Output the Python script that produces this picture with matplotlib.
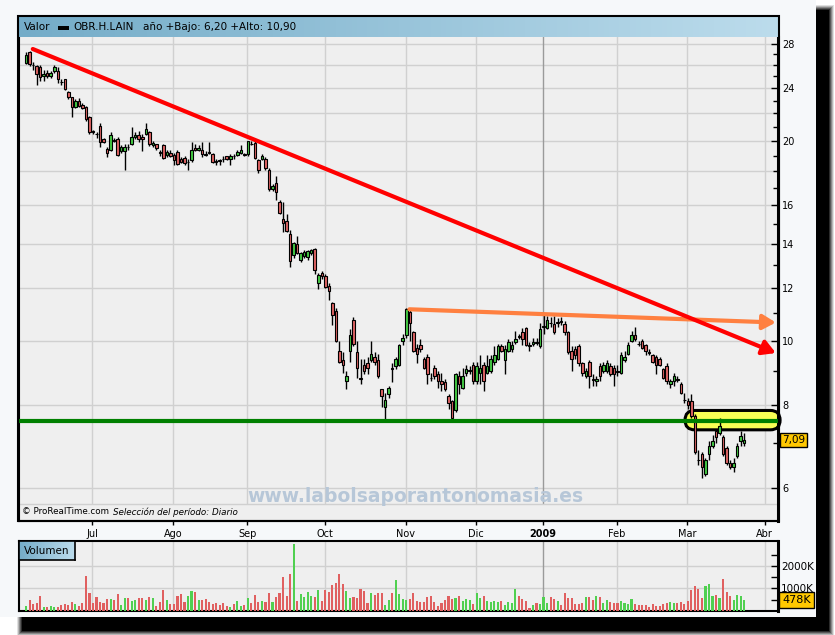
import numpy as np
import pandas as pd
import matplotlib
matplotlib.use("Agg")
import matplotlib.pyplot as plt
from matplotlib.patches import Rectangle, FancyBboxPatch
from matplotlib.ticker import FixedLocator, NullFormatter, FixedFormatter, FuncFormatter
from matplotlib.colors import LinearSegmentedColormap
import matplotlib.transforms as mtrans

W, H, DPI = 835, 635, 100

# ------------------------------------------------------------------ data
holidays = pd.to_datetime(["2008-12-24", "2008-12-25", "2008-12-26",
                           "2008-12-31", "2009-01-01"])
calendar = pd.bdate_range("2008-06-04", "2009-04-10")
calendar = calendar[~calendar.isin(holidays)]

opens = [26.2, 27.2, 26.05, 25.95, 25.8, 25.05, 25.3, 25.05, 25.45, 25.45,
         24.55, 24.75, 23.7, 23.25, 22.5, 22.95, 22.65, 22.5, 21.7, 20.7,
         20.5, 21.05, 20.1, 19.45, 19.4, 20.05, 20.1, 19.3, 19.3, 19.6,
         19.8, 20.25, 20.4, 20.3, 20.5, 20.6, 19.7, 19.75, 19.25, 19.7,
         19.05, 19.2, 19.05, 19.25, 18.8, 18.85, 18.6, 18.7, 19.5, 19.4,
         19.4, 19.1, 19.25, 19.1, 18.65, 18.7, 18.8, 18.95, 18.75, 19.0,
         19.05, 19.2, 19.1, 19.1, 19.8, 19.85, 18.7, 18.8, 18.8, 18.1,
         16.9, 17.3, 16.2, 15.25, 15.15, 14.5, 13.45, 14.0, 13.25, 13.4,
         13.35, 13.55, 13.75, 12.2, 12.65, 12.5, 12.1, 11.4, 11.1, 9.65,
         9.35, 8.7, 9.65, 10.75, 9.6, 8.8, 9.2, 9.25, 9.35, 9.45,
         9.35, 8.45, 7.95, 8.3, 9.1, 9.15, 9.2, 10.0, 10.2, 11.05,
         10.3, 9.75, 9.85, 9.4, 9.45, 8.8, 9.1, 8.9, 8.7, 8.65,
         8.25, 8.1, 7.85, 8.85, 8.5, 8.95, 9.0, 9.2, 8.7, 8.95,
         9.2, 8.95, 9.0, 9.3, 9.4, 9.8, 9.35, 9.65, 9.7, 9.95,
         10.15, 10.3, 10.45, 9.85, 9.9, 9.95, 9.8, 10.5, 10.45, 10.65,
         10.6, 10.65, 10.7, 10.6, 10.3, 9.65, 9.7, 9.8, 9.25, 8.85,
         9.3, 8.75, 8.7, 9.15, 9.0, 9.0, 9.15, 9.1, 9.0, 8.95,
         9.35, 9.55, 10.0, 10.2, 9.9, 10.0, 9.85, 9.6, 9.5, 9.45,
         9.4, 9.05, 9.15, 8.6, 8.7, 8.75, 8.6, 8.15, 8.1, 8.1,
         7.7, 6.62, 6.75, 6.3, 6.75, 6.95, 7.3, 7.25, 7.15, 6.9,
         6.55, 6.45, 6.7, 7.05, 7.02]
highs = [27.2, 27.3, 26.25, 26.0, 26.0, 25.6, 25.6, 25.5, 26.0, 25.8,
         24.8, 24.8, 23.8, 23.3, 23.1, 23.2, 22.8, 22.6, 21.8, 20.8,
         20.6, 21.3, 20.2, 19.6, 20.6, 20.2, 20.3, 19.7, 19.8, 19.8,
         21.0, 20.6, 20.7, 20.5, 21.3, 20.7, 20.0, 19.8, 19.4, 19.8,
         19.4, 19.4, 19.2, 19.4, 18.9, 19.0, 18.75, 19.9, 19.8, 19.7,
         19.9, 19.3, 19.9, 19.2, 18.8, 18.8, 19.0, 19.0, 19.1, 19.1,
         19.35, 19.7, 19.2, 20.0, 20.0, 20.1, 18.75, 19.1, 18.9, 18.2,
         17.2, 17.7, 16.3, 16.2, 15.5, 14.7, 14.1, 14.4, 13.6, 13.7,
         13.7, 13.75, 13.8, 12.65, 12.75, 12.6, 12.2, 11.45, 11.2, 10.0,
         9.6, 9.0, 10.4, 10.85, 10.0, 9.4, 9.4, 9.45, 10.0, 9.6,
         9.55, 8.45, 8.35, 8.55, 9.25, 9.45, 9.9, 10.25, 11.2, 11.15,
         10.35, 9.9, 10.05, 9.45, 9.55, 8.95, 9.2, 9.0, 8.95, 8.75,
         8.3, 8.15, 8.95, 9.0, 9.1, 9.2, 9.15, 9.3, 9.3, 9.5,
         9.3, 9.5, 9.5, 9.8, 9.9, 9.9, 9.85, 10.05, 10.0, 10.35,
         10.25, 10.45, 10.5, 9.95, 10.1, 10.1, 10.65, 10.95, 10.9, 10.85,
         10.9, 10.8, 10.85, 10.7, 10.35, 9.8, 9.8, 9.9, 9.3, 9.1,
         9.35, 8.9, 8.85, 9.25, 9.3, 9.35, 9.25, 9.2, 9.2, 9.6,
         9.65, 9.95, 10.35, 10.5, 10.0, 10.05, 9.9, 9.7, 9.55, 9.5,
         9.45, 9.1, 9.25, 8.75, 8.95, 8.85, 8.65, 8.35, 8.2, 8.3,
         7.75, 6.85, 6.8, 6.65, 7.05, 7.2, 7.35, 7.65, 7.2, 6.95,
         6.6, 6.65, 7.0, 7.3, 7.25]
lows = [26.1, 25.9, 25.6, 24.3, 24.6, 24.6, 24.9, 24.9, 25.3, 24.4,
        24.3, 23.85, 23.1, 21.7, 22.4, 22.5, 22.3, 21.4, 20.5, 20.5,
        20.2, 19.6, 19.85, 18.9, 19.3, 19.9, 19.0, 19.2, 18.1, 19.4,
        19.7, 20.1, 19.9, 19.3, 20.4, 19.65, 19.6, 19.4, 19.0, 18.8,
        18.9, 18.9, 18.4, 18.4, 18.5, 18.4, 18.1, 18.6, 19.3, 19.3,
        18.9, 19.0, 19.1, 18.5, 18.4, 18.4, 18.6, 18.7, 18.4, 18.8,
        19.0, 19.1, 19.0, 19.0, 19.7, 18.8, 17.9, 18.7, 18.1, 16.8,
        16.8, 16.3, 15.5, 14.6, 14.6, 12.9, 13.3, 13.5, 13.15, 13.3,
        13.25, 13.45, 12.6, 11.95, 12.4, 12.0, 11.5, 10.55, 9.95, 9.25,
        8.95, 8.45, 9.3, 9.8, 8.8, 8.6, 8.9, 8.9, 9.3, 9.2,
        8.8, 7.95, 7.6, 8.2, 8.65, 9.05, 9.15, 9.85, 10.1, 10.0,
        9.6, 9.25, 9.6, 9.05, 8.6, 8.7, 8.75, 8.5, 8.4, 8.4,
        7.9, 7.6, 7.8, 8.3, 8.45, 8.85, 8.9, 8.6, 8.6, 8.6,
        8.4, 8.9, 8.95, 9.2, 9.35, 9.6, 8.9, 9.6, 9.6, 9.9,
        10.05, 9.85, 9.8, 9.65, 9.8, 9.85, 9.75, 10.25, 10.4, 10.5,
        10.25, 10.5, 10.55, 10.2, 9.55, 9.0, 9.4, 9.15, 8.85, 8.8,
        8.5, 8.55, 8.55, 8.7, 8.95, 8.95, 8.85, 8.55, 8.85, 8.9,
        9.3, 9.5, 9.95, 10.0, 9.8, 9.7, 9.5, 9.5, 9.25, 8.9,
        9.15, 8.75, 8.6, 8.5, 8.55, 8.65, 8.3, 8.05, 7.9, 7.65,
        6.75, 6.5, 6.2, 6.25, 6.6, 6.9, 7.0, 7.2, 6.7, 6.5,
        6.4, 6.35, 6.65, 6.95, 6.95]
closes = [26.95, 26.1, 26.0, 25.2, 24.95, 25.25, 25.05, 25.3, 25.8, 24.75,
          24.5, 23.9, 23.25, 22.5, 22.95, 22.6, 22.45, 21.6, 20.6, 20.65,
          20.45, 19.95, 19.95, 19.2, 20.4, 20.0, 19.05, 19.55, 19.6, 19.55,
          20.3, 20.4, 20.1, 20.15, 20.85, 19.75, 19.85, 19.5, 19.2, 18.85,
          19.25, 19.0, 18.7, 18.45, 18.6, 18.55, 18.6, 19.4, 19.4, 19.5,
          19.1, 19.05, 19.2, 18.6, 18.6, 18.65, 18.75, 18.8, 18.95, 18.95,
          19.25, 19.4, 19.05, 20.0, 19.75, 18.85, 18.1, 18.95, 18.2, 16.9,
          17.1, 16.75, 15.55, 15.05, 14.65, 13.2, 14.05, 13.55, 13.55, 13.6,
          13.65, 13.7, 12.78, 12.55, 12.5, 12.05, 11.9, 10.95, 10.0, 9.3,
          9.2, 8.85, 10.2, 9.9, 9.1, 8.75, 9.0, 9.1, 9.55, 9.3,
          8.85, 8.25, 8.15, 8.5, 9.05, 9.4, 9.85, 10.1, 11.15, 10.65,
          9.65, 9.55, 9.7, 9.1, 8.9, 8.78, 8.85, 8.7, 8.6, 8.45,
          8.05, 7.65, 8.9, 8.6, 8.85, 9.05, 9.02, 8.7, 9.15, 9.1,
          8.7, 9.15, 9.4, 9.5, 9.8, 9.65, 9.7, 9.95, 9.85, 10.05,
          10.12, 10.05, 9.85, 9.83, 9.95, 9.93, 10.4, 10.52, 10.75, 10.63,
          10.3, 10.67, 10.68, 10.3, 9.6, 9.4, 9.5, 9.25, 8.95, 9.0,
          8.85, 8.73, 8.75, 8.85, 9.2, 9.25, 8.9, 8.9, 8.98, 9.5,
          9.45, 9.85, 10.2, 10.05, 9.88, 9.75, 9.65, 9.58, 9.3, 9.2,
          9.2, 8.8, 8.7, 8.7, 8.85, 8.73, 8.35, 8.13, 8.0, 7.7,
          6.8, 6.6, 6.45, 6.6, 6.95, 7.05, 7.15, 7.45, 6.75, 6.55,
          6.45, 6.55, 6.95, 7.18, 7.09]
volumes_k = [221, 487, 310, 354, 664, 177, 177, 221, 177, 192,
             265, 310, 280, 398, 310, 221, 354, 1549, 796, 354,
             619, 398, 354, 531, 531, 487, 737, 265, 575, 575,
             442, 487, 575, 575, 487, 619, 575, 221, 398, 929,
             487, 310, 310, 664, 752, 398, 664, 885, 841, 487,
             487, 531, 398, 310, 354, 265, 354, 221, 177, 310,
             442, 221, 265, 575, 354, 708, 398, 442, 398, 796,
             398, 619, 796, 1504, 664, 1637, 2965, 442, 752, 619,
             841, 664, 619, 929, 442, 929, 841, 1150, 1239, 1637,
             1195, 885, 575, 619, 575, 973, 885, 354, 796, 708,
             796, 796, 265, 487, 796, 1372, 752, 531, 487, 531,
             796, 442, 398, 413, 619, 664, 398, 236, 354, 487,
             664, 531, 575, 664, 457, 531, 487, 310, 796, 575,
             664, 442, 398, 442, 398, 442, 265, 398, 354, 973,
             664, 531, 442, 133, 280, 354, 310, 619, 354, 619,
             531, 442, 265, 796, 575, 575, 310, 310, 354, 619,
             619, 487, 664, 619, 354, 487, 398, 354, 354, 442,
             354, 310, 531, 310, 265, 265, 265, 177, 310, 221,
             221, 310, 354, 398, 354, 354, 398, 310, 442, 929,
             1106, 973, 575, 1106, 1195, 664, 708, 575, 1416, 841,
             664, 487, 708, 664, 478]

dates = calendar[:len(closes)]
month_names = {1: "2009", 2: "Feb", 3: "Mar", 4: "Abr", 7: "Jul", 8: "Ago",
               9: "Sep", 10: "Oct", 11: "Nov", 12: "Dic"}
price_major = [6, 8, 10, 12, 14, 16, 20, 24, 28]
price_minor = list(range(6, 29))
price_grid = list(range(6, 29, 2))
vol_major = [1000, 2000]
vol_minor = [500, 1500, 2500]

support_level = 7.57
red_trend = ((1.9, 27.5), (213.0, 9.58))        # (day index, price)
orange_trend = ((108.9, 11.15), (213.0, 10.65))
highlight = (187.2, 214.2, 7.34, 7.85)           # x0, x1, price lo, price hi

title_parts = ("Valor", "OBR.H.LAIN", "año +Bajo: 6,20 +Alto: 10,90")
watermark = "www.labolsaporantonomasia.es"

# ------------------------------------------------------------------ helpers
RED = "#e06464"
GREEN = "#44cc44"
GRID = "#d0d0d0"
PLOTBG = "#efefef"

plt.rcParams["font.family"] = ["DejaVu Sans"]

fig = plt.figure(figsize=(W / DPI, H / DPI), dpi=DPI, facecolor="white")


def box(l, t, r, b):
    return [l / W, 1 - b / H, (r - l) / W, (b - t) / H]


def frect(l, t, r, b, **kw):
    p = Rectangle((l / W, 1 - b / H), (r - l) / W, (b - t) / H,
                  transform=fig.transFigure, **kw)
    fig.patches.append(p)
    return p


# shadow + panel
for k, a in zip([5, 4, 3, 2, 1], [0.12, 0.18, 0.25, 0.35, 0.5]):
    frect(22 - k, 10 - k, 829 + k, 631 + k, fc="black", ec="none", alpha=a, zorder=-20)
frect(22, 10, 829, 631, fc="black", ec="none", zorder=-19)
frect(0, 0, 816, 617, fc="#f6f8fa", ec="none", zorder=-18)

# trading-day positions
n = len(closes)
x = np.arange(n)
o = np.array(opens); h = np.array(highs); lo = np.array(lows); c = np.array(closes)
up = c >= o

# month ticks (first trading day of each month, extended calendar)
cal_months = calendar.to_period("M")
tick_pos, tick_lab = [], []
for i in range(1, len(calendar)):
    if cal_months[i] != cal_months[i - 1] and calendar[i].month in month_names:
        tick_pos.append(i - 0.15)
        tick_lab.append(month_names[calendar[i].month])

xl = ((19 - 26.1) / 3.52, (778 - 26.1) / 3.52)

# ------------------------------------------------------------------ price axes
ax = fig.add_axes(box(19, 37, 778, 521))
ax.set_facecolor(PLOTBG)
ax.set_yscale("log")
ax.set_ylim(5.35, 28.67)
ax.set_xlim(*xl)

for v in price_grid:
    ax.axhline(v, color=GRID, lw=1, zorder=1)
for t, lab in zip(tick_pos, tick_lab):
    ax.axvline(t, color="#9a9a9a" if lab == "2009" else GRID, lw=1, zorder=1)

# bottom strip
ax.add_patch(Rectangle((0, 0), 1, (521 - 504) / 484, transform=ax.transAxes,
                       fc=PLOTBG, ec="none", zorder=1.5))
ax.plot([0, 1], [(521 - 504) / 484] * 2, transform=ax.transAxes,
        color=GRID, lw=1, zorder=1.6)

# highlight box (display coords so that the ends stay round)
X0, Y0 = ax.transData.transform((highlight[0], highlight[2]))
X1, Y1 = ax.transData.transform((highlight[1], highlight[3]))
hb = FancyBboxPatch((X0, Y0), X1 - X0, Y1 - Y0,
                    boxstyle=f"round,pad=0,rounding_size={(Y1 - Y0) / 2:.2f}",
                    transform=mtrans.IdentityTransform(), fc="#f8ff55",
                    ec="black", lw=2.2, zorder=2.5, clip_on=False)
ax.add_patch(hb)

# candles
ax.vlines(x, lo, h, color="black", lw=1, zorder=3)
blo = np.minimum(o, c)
bhi = np.maximum(o, c)
ax.bar(x, bhi - blo, bottom=blo, width=0.72,
       color=np.where(up, GREEN, RED), edgecolor="black", linewidth=0.8, zorder=4)

# support / trend lines
ax.axhline(support_level, color="#008000", lw=3, zorder=5)
for (p0, p1), col in ((orange_trend, "#ff8040"), (red_trend, "#ff0000")):
    ax.annotate("", xy=p1, xytext=p0,
                arrowprops=dict(arrowstyle="-|>,head_length=0.7,head_width=0.4",
                                color=col, lw=3, mutation_scale=11,
                                shrinkA=0, shrinkB=0),
                annotation_clip=False, zorder=6)

# axes styling
ax.yaxis.tick_right()
ax.yaxis.set_major_locator(FixedLocator(price_major))
ax.yaxis.set_major_formatter(FixedFormatter([str(v) for v in price_major]))
ax.yaxis.set_minor_locator(FixedLocator([v for v in price_minor if v not in price_major]))
ax.yaxis.set_minor_formatter(NullFormatter())
ax.tick_params(axis="y", which="major", direction="in", length=5, width=1,
               labelsize=7, pad=3, colors="black")
ax.tick_params(axis="y", which="minor", direction="in", length=3.5, width=1)
ax.set_xticks(tick_pos)
ax.set_xticklabels(tick_lab)
ax.tick_params(axis="x", direction="out", length=3, width=1, labelsize=7, pad=3)
for lab in ax.get_xticklabels():
    if lab.get_text() == "2009":
        lab.set_fontweight("bold")
for s in ("left", "bottom"):
    ax.spines[s].set_linewidth(1.5)
ax.spines["top"].set_visible(False)
ax.spines["right"].set_linewidth(2.2)

# last price label
ax.annotate(f"{closes[-1]:.2f}".replace(".", ","), xy=(1, closes[-1]),
            xycoords=("axes fraction", "data"), xytext=(3, 0),
            textcoords="offset points", ha="left", va="center", fontsize=7.5,
            bbox=dict(boxstyle="square,pad=0.2", fc="#ffc800", ec="black", lw=1),
            annotation_clip=False, zorder=10)

# strip texts
fig.text(22 / W, 1 - 512 / H, "© ProRealTime.com", fontsize=6.3, va="center", ha="left")
fig.text(113 / W, 1 - 512 / H, "Selección del período: Diario", fontsize=6.3,
         style="italic", va="center", ha="left")

# watermark
fig.text(415 / W, 1 - 496 / H, watermark, ha="center", va="center",
         fontsize=13.5, fontweight="bold", color="#b7c7d8", zorder=20)

# frame
frect(18, 16, 779, 521, fill=False, ec="black", lw=1.5, zorder=30)

# header
grad = np.linspace(0, 1, 256).reshape(1, -1)
hcmap = LinearSegmentedColormap.from_list("hdr", ["#74acc8", "#bcdcec"])
hax = fig.add_axes(box(19, 17, 778, 37))
hax.imshow(grad, aspect="auto", cmap=hcmap, extent=[0, 1, 0, 1])
hax.set_axis_off()
fig.text(24 / W, 1 - 27 / H, title_parts[0], fontsize=7.5, va="center", ha="left")
frect(58, 26, 69, 30, fc="black", ec="none", zorder=30)
fig.text(73 / W, 1 - 27 / H, title_parts[1], fontsize=7.5, va="center", ha="left")
fig.text(143 / W, 1 - 27 / H, title_parts[2], fontsize=7.5, va="center", ha="left")

# ------------------------------------------------------------------ volume axes
vax = fig.add_axes(box(19, 541, 778, 611))
vax.set_facecolor(PLOTBG)
vax.set_xlim(*xl)
vax.set_ylim(0, 3100)
for v in vol_major:
    vax.axhline(v, color=GRID, lw=1, zorder=1)
for t, lab in zip(tick_pos, tick_lab):
    vax.axvline(t, color="#9a9a9a" if lab == "2009" else GRID, lw=1, zorder=1)
vax.bar(x, volumes_k, width=0.6, color=np.where(up, "#50d050", "#e06060"),
        linewidth=0, zorder=3)
vax.set_xticks([])
vax.yaxis.tick_right()
vax.yaxis.set_major_locator(FixedLocator(vol_major))
vax.yaxis.set_major_formatter(FuncFormatter(lambda v, p: f"{int(v)}K"))
vax.yaxis.set_minor_locator(FixedLocator(vol_minor))
vax.tick_params(axis="y", which="major", direction="in", length=5, width=1,
                labelsize=7.5, pad=2)
vax.tick_params(axis="y", which="minor", direction="in", length=5, width=1)
for s in vax.spines.values():
    s.set_linewidth(1.5)
vax.spines["right"].set_linewidth(2.2)
vax.annotate(f"{volumes_k[-1]}K", xy=(1, volumes_k[-1]),
             xycoords=("axes fraction", "data"), xytext=(3, 0),
             textcoords="offset points", ha="left", va="center", fontsize=8,
             bbox=dict(boxstyle="square,pad=0.25", fc="#ffc800", ec="black", lw=1),
             annotation_clip=False, zorder=10)

vhax = fig.add_axes(box(19, 541, 75, 560))
vhax.imshow(grad, aspect="auto", cmap=hcmap, extent=[0, 1, 0, 1])
vhax.set_xticks([]); vhax.set_yticks([])
for s in vhax.spines.values():
    s.set_linewidth(1.2)
vhax.text(0.08, 0.5, "Volumen", transform=vhax.transAxes, fontsize=7.5,
          va="center", ha="left")

fig.savefig("out.png", dpi=DPI, facecolor=fig.get_facecolor())
